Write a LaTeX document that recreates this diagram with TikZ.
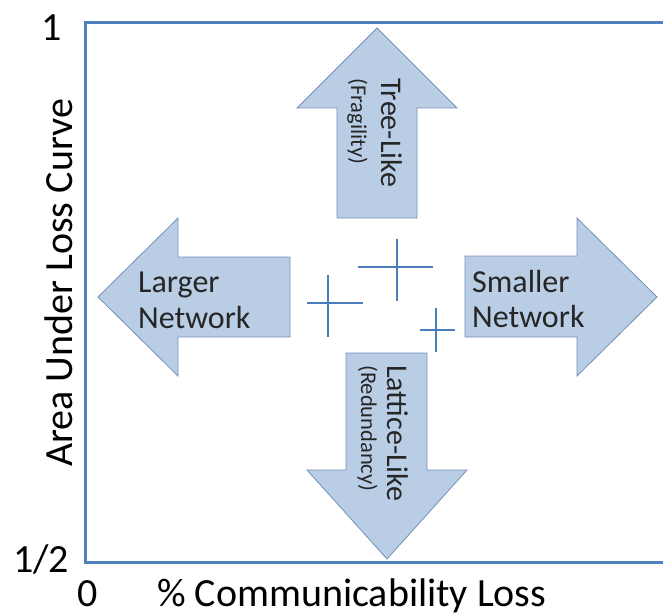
\documentclass[tikz,border=0pt]{standalone}
\usepackage{fontspec}
\setmainfont{Carlito}
\definecolor{arrfill}{HTML}{B9CDE5}
\definecolor{arrdraw}{HTML}{7391B8}
\definecolor{boxline}{HTML}{4F81BD}
\definecolor{crossline}{HTML}{4A7EBB}
\tikzset{
  bigarrow/.style={fill=arrfill, draw=arrdraw, line width=0.8pt, line join=miter},
  axislabel/.style={inner sep=0pt, font=\fontsize{40}{48}\selectfont, text=black},
  arrlabel/.style={inner sep=0pt, font=\fontsize{32}{36}\selectfont, text=black!85},
  rotmain/.style={inner sep=0pt, rotate=-90, anchor=base west, font=\fontsize{30}{34}\selectfont, text=black!85},
  rotsub/.style={inner sep=0pt, rotate=-90, anchor=base west, font=\fontsize{22.5}{26}\selectfont, text=black!85},
  crossmark/.style={draw=crossline, line width=2.8pt},
}
\begin{document}
\begin{tikzpicture}[x=1pt,y=-1pt]
\useasboundingbox (0,0) rectangle (663,615);
% frame
\draw[boxline, line width=3pt] (663,23) -- (85,23) -- (85,562) -- (663,562);
% arrows
\draw[bigarrow] (337,218) -- (337,108) -- (297,108) -- (377,28) -- (457,108) -- (417,108) -- (417,218) -- cycle;
\draw[bigarrow] (346,353) -- (427,353) -- (427,470) -- (467,470) -- (387,559) -- (307,470) -- (346,470) -- cycle;
\draw[bigarrow] (465,256) -- (577,256) -- (577,218) -- (657,297) -- (577,376) -- (577,337) -- (465,337) -- cycle;
\draw[bigarrow] (290,257) -- (178,257) -- (178,218) -- (98,297) -- (178,376) -- (178,337) -- (290,337) -- cycle;
% arrow texts
\node[arrlabel, anchor=base west] (larger) at (138,292) {Larger};
\node[arrlabel, anchor=base west] (largernet) at (138,328) {Network};
\node[arrlabel, anchor=base west] (smaller) at (472,292) {Smaller};
\node[arrlabel, anchor=base west] (smallernet) at (472,327) {Network};
\node[rotmain] (tree) at (381,78) {Tree-Like};
\node[rotsub] (fragility) at (351,78) {(Fragility)};
\node[rotmain] (lattice) at (387,365) {Lattice-Like};
\node[rotsub] (redundancy) at (361,365) {(Redundancy)};
% crosses
\draw[crossmark] (307,303) -- (363,303);
\draw[crossmark] (328,275) -- (328,337);
\draw[crossmark] (358,267) -- (433,267);
\draw[crossmark] (397,239) -- (397,301);
\draw[crossmark] (420,330) -- (455,330);
\draw[crossmark] (436,308) -- (436,352);
% axis labels
\node[axislabel, anchor=base] (one) at (52,41) {1};
\node[axislabel, anchor=base] (half) at (41,572) {1/2};
\node[axislabel, anchor=base] (zero) at (87.5,606) {0};
\node[axislabel, anchor=base west] (xlab) at (157,606) {\% Communicability Loss};
\node[axislabel, anchor=base west, rotate=90] (ylab) at (72,467) {Area Under Loss Curve};
\end{tikzpicture}
\end{document}
